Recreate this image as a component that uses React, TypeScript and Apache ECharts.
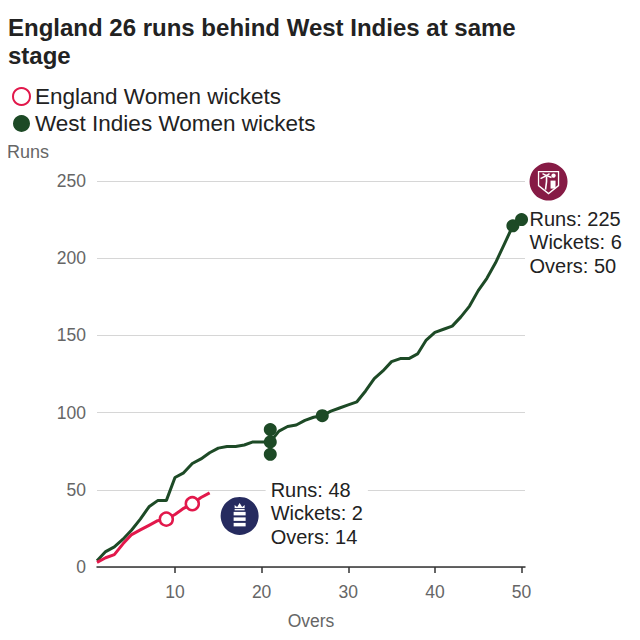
import React, { useEffect, useRef } from "react";
import * as echarts from "echarts";

const titleText = "England 26 runs behind West Indies at same\nstage";
const englandName = "England Women wickets";
const westIndiesName = "West Indies Women wickets";

const englandOvers = [1, 2, 3, 4, 5, 6, 7, 8, 9, 10, 11, 12, 13, 14];
const englandRuns = [3, 6, 8, 15, 21, 24, 27, 30, 31, 34, 38, 41, 45, 48];

const westIndiesOvers = [
  1, 2, 3, 4, 5, 6, 7, 8, 9, 10, 11, 12, 13, 14, 15, 16, 17, 18, 19, 20, 21, 22, 23, 24, 25,
  26, 27, 28, 29, 30, 31, 32, 33, 34, 35, 36, 37, 38, 39, 40, 41, 42, 43, 44, 45, 46, 47, 48, 49, 50,
];
const westIndiesRuns = [
  4, 10, 13, 18, 24, 31, 39, 43, 43, 58, 61, 67, 70, 74, 77, 78, 78, 79, 81, 81, 81, 88, 91, 92, 95,
  97, 98, 101, 103, 105, 107, 114, 122, 127, 133, 135, 135, 138, 147, 152, 154, 156, 162, 169, 179, 187, 197, 209, 221, 225,
];

const englandWicketOvers = [9, 12];
const englandWicketRuns = [31, 41];
const westIndiesWicketOvers = [21, 21, 21, 27, 49, 50];
const westIndiesWicketRuns = [73, 81, 89, 98, 221, 225];

const englandSummary = { runs: 48, wickets: 2, overs: 14 };
const westIndiesSummary = { runs: 225, wickets: 6, overs: 50 };

const xTickValues = [10, 20, 30, 40, 50];

const RED = "#e2184b";
const GREEN = "#1d4a26";
const NAVY = "#262b5f";
const MAROON = "#861b45";
const FONT = "'Liberation Sans', Arial, sans-serif";

export default function App() {
  const ref = useRef<HTMLDivElement>(null);

  useEffect(() => {
    if (!ref.current) return;
    const chart = echarts.init(ref.current, undefined, { renderer: "svg" });

    const engLine = englandOvers.map((o, i) => [o, englandRuns[i]]);
    const wiLine = westIndiesOvers.map((o, i) => [o, westIndiesRuns[i]]);
    const engW = englandWicketOvers.map((o, i) => [o, englandWicketRuns[i]]);
    const wiW = westIndiesWicketOvers.map((o, i) => [o, westIndiesWicketRuns[i]]);

    chart.setOption({
      animation: false,
      backgroundColor: "#fff",
      textStyle: { fontFamily: FONT },
      title: {
        text: titleText,
        left: 0,
        top: 5,
        padding: 0,
        textStyle: {
          fontFamily: FONT,
          fontWeight: "bold",
          fontSize: 24,
          lineHeight: 28,
          color: "#222",
        },
      },
      legend: {
        orient: "vertical",
        left: 4,
        top: 77,
        padding: 0,
        itemWidth: 17,
        itemHeight: 17,
        itemGap: 4,
        data: [englandName, westIndiesName],
        textStyle: { fontFamily: FONT, fontSize: 22.5, color: "#222", lineHeight: 22 },
        selectedMode: false,
      },
      grid: { left: 89, right: 123, top: 173, bottom: 81 },
      xAxis: {
        type: "value",
        min: 1,
        max: 50.4,
        name: "Overs",
        nameLocation: "middle",
        nameGap: 45,
        nameTextStyle: { fontFamily: FONT, fontSize: 17.5, color: "#666" },
        axisLine: { show: true, lineStyle: { color: "#333", width: 1.5 } },
        axisTick: { show: true, length: 6, customValues: xTickValues, lineStyle: { color: "#333", width: 1.5 } },
        axisLabel: { customValues: xTickValues, fontSize: 17.5, color: "#666", margin: 16, fontFamily: FONT },
        splitLine: { show: false },
      },
      yAxis: {
        type: "value",
        min: 0,
        max: 250,
        interval: 50,
        axisLine: { show: false },
        axisTick: { show: false },
        axisLabel: { fontSize: 17.5, color: "#666", margin: 11, fontFamily: FONT },
        splitLine: { lineStyle: { color: "#d6d6d6", width: 1 } },
      },
      series: [
        {
          type: "line",
          name: "West Indies runs",
          data: wiLine,
          symbol: "none",
          lineStyle: { color: GREEN, width: 3 },
          z: 2,
        },
        {
          type: "line",
          name: "England runs",
          data: engLine,
          symbol: "none",
          lineStyle: { color: RED, width: 3 },
          z: 3,
        },
        {
          type: "scatter",
          name: westIndiesName,
          data: wiW,
          symbol: "circle",
          symbolSize: 13,
          itemStyle: { color: GREEN, opacity: 1 },
          z: 4,
        },
        {
          type: "scatter",
          name: englandName,
          data: engW,
          symbol: "circle",
          symbolSize: 13,
          itemStyle: { color: "#fff", borderColor: RED, borderWidth: 2.5, opacity: 1 },
          z: 5,
        },
      ],
    });

    const pE = chart.convertToPixel({ gridIndex: 0 }, [englandSummary.overs, englandSummary.runs]) as number[];
    const pW = chart.convertToPixel({ gridIndex: 0 }, [westIndiesSummary.overs, westIndiesSummary.runs]) as number[];
    const lh = 23.5;
    const annFont = `20px ${FONT}`;

    const ecbLogo = (cx: number, cy: number) => ({
      type: "group",
      x: cx,
      y: cy,
      children: [
        { type: "circle", shape: { cx: 0, cy: 0, r: 19 }, style: { fill: NAVY } },
        { type: "polygon", shape: { points: [[-5, -8], [-5, -11], [-2.5, -9], [0, -13], [2.5, -9], [5, -11], [5, -8]] }, style: { fill: "#fff" } },
        { type: "rect", shape: { x: -5, y: -7, width: 10, height: 1.5 }, style: { fill: "#fff" } },
        { type: "rect", shape: { x: -6, y: -4, width: 12, height: 3.5 }, style: { fill: "#fff" } },
        { type: "rect", shape: { x: -6, y: 1.5, width: 12, height: 3.5 }, style: { fill: "#fff" } },
        { type: "rect", shape: { x: -6, y: 7, width: 12, height: 3.5 }, style: { fill: "#fff" } },
      ],
    });

    const wiLogo = (cx: number, cy: number) => ({
      type: "group",
      x: cx,
      y: cy,
      children: [
        { type: "circle", shape: { cx: 0, cy: 0, r: 19 }, style: { fill: MAROON } },
        { type: "polygon", shape: { points: [[-10, -10], [10, -10], [10, 4], [0, 12], [-10, 4]] }, style: { fill: "none", stroke: "#fff", lineWidth: 1.3 } },
        { type: "polyline", shape: { points: [[-3, 8], [-2, 0], [-2, -5]] }, style: { stroke: "#fff", lineWidth: 1.6, fill: "none" } },
        { type: "polyline", shape: { points: [[-8, -3], [-2, -6], [3, -4]] }, style: { stroke: "#fff", lineWidth: 1.6, fill: "none" } },
        { type: "polyline", shape: { points: [[-6, -8], [-2, -6], [1, -8]] }, style: { stroke: "#fff", lineWidth: 1.4, fill: "none" } },
        { type: "circle", shape: { cx: 5, cy: -6, r: 2.2 }, style: { fill: "#fff" } },
        { type: "rect", shape: { x: 2, y: -1, width: 5, height: 8 }, style: { fill: "#fff" } },
      ],
    });

    chart.setOption({
      graphic: [
        {
          type: "text",
          x: -1,
          y: 144,
          style: { text: "Runs", font: `18px ${FONT}`, fill: "#666", verticalAlign: "middle" },
        },
        ecbLogo(pE[0] + 30, pE[1] + 23),
        {
          type: "text",
          x: pE[0] + 56,
          y: pE[1] - 3 - lh / 2 - 2,
          z: 10,
          style: {
            text: `Runs: ${englandSummary.runs}\nWickets: ${englandSummary.wickets}\nOvers: ${englandSummary.overs}`,
            font: annFont,
            fill: "#222",
            lineHeight: lh,
            backgroundColor: "#fff",
            padding: [2, 5, 2, 5],
          },
        },
        wiLogo(pW[0] + 27, pW[1] - 38),
        {
          type: "text",
          x: pW[0] + 8,
          y: pW[1] - 1 - lh / 2,
          z: 10,
          style: {
            text: `Runs: ${westIndiesSummary.runs}\nWickets: ${westIndiesSummary.wickets}\nOvers: ${westIndiesSummary.overs}`,
            font: annFont,
            fill: "#222",
            lineHeight: lh,
          },
        },
      ],
    });

    return () => chart.dispose();
  }, []);

  return <div ref={ref} style={{ width: 640, height: 640 }} />;
}
